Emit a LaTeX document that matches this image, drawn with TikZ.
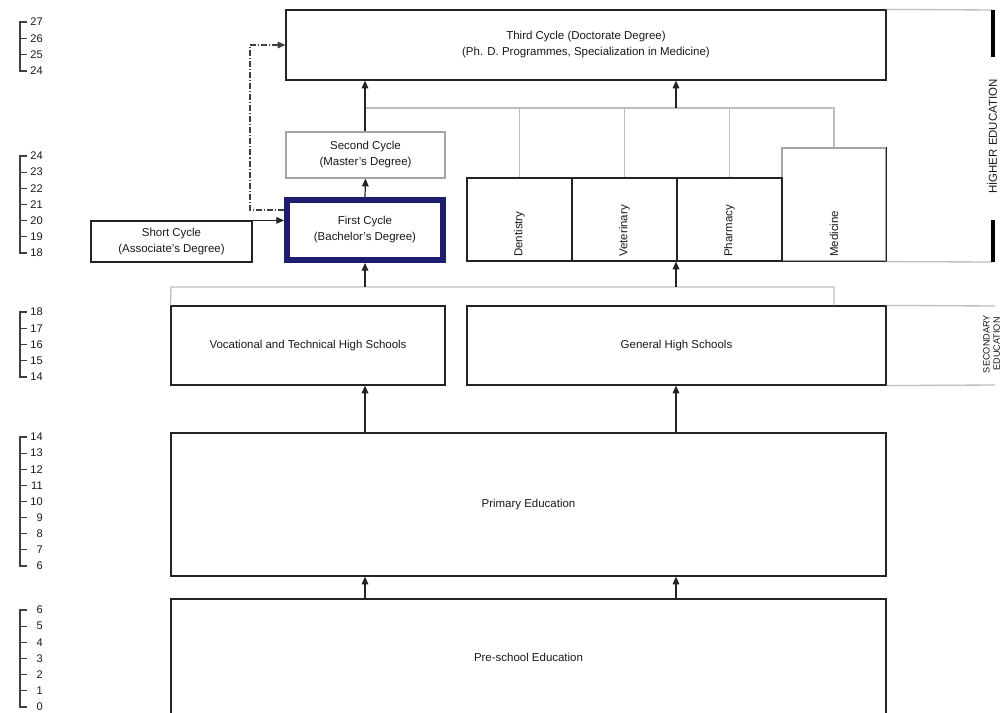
\documentclass[tikz,border=0pt]{standalone}
\usepackage{fontspec}
\setmainfont{Liberation Sans}
\usetikzlibrary{arrows.meta}
\definecolor{navy}{RGB}{30,30,110}
\definecolor{lgrey}{RGB}{190,190,190}
\definecolor{mgrey}{RGB}{165,165,165}
\definecolor{dline}{RGB}{35,35,35}
\definecolor{txt}{RGB}{25,25,25}
\begin{document}
\begin{tikzpicture}[x=0.75pt,y=-0.75pt,
  box/.style={draw=dline, line width=0.9pt, inner sep=0pt, text=txt,
    font=\fontsize{8.6}{12}\selectfont},
  sz/.style 2 args={minimum width=#1*0.75pt, minimum height=#2*0.75pt},
  two/.style={align=center},
  greybox/.style={box, draw=mgrey},
  navybox/.style={box, draw=navy, line width=4.5pt},
  gline/.style={draw=lgrey, line width=1pt},
  arr/.style={draw=dline, line width=0.9pt, -{Triangle[length=5.8pt,width=5pt]}},
  ddash/.style={draw=black!75, line width=0.8pt, dash pattern=on 4.5pt off 1.5pt on 0.8pt off 1.5pt,
    -{Triangle[length=5.8pt,width=5pt]}},
  bar/.style={draw=black, line width=2.3pt},
  vlabel/.style={rotate=90, anchor=west, inner sep=0pt, text=txt, font=\fontsize{8.6}{12}\selectfont},
  axis/.style={draw=black!75, line width=0.8pt},
  axlabel/.style={anchor=east, inner sep=0pt, text=txt, font=\fontsize{8.3}{10}\selectfont},
]
\useasboundingbox (0,0) rectangle (1002,713);

% age scales
\foreach \tp/\bt/\yt/\yb in {27/24/22/71, 24/18/156/253, 18/14/312/377, 14/6/437/566, 6/0/610/707}{
  \draw[axis] (27,\yt) -- (20,\yt) -- (20,\yb) -- (27,\yb);
  \pgfmathtruncatemacro{\nn}{\tp-\bt}
  \foreach \k in {0,...,\nn}{
    \pgfmathsetmacro{\yy}{\yt+\k*(\yb-\yt)/(\tp-\bt)}
    \pgfmathtruncatemacro{\lab}{\tp-\k}
    \draw[axis] (20,\yy) -- (27,\yy);
    \node[axlabel] (ax-\tp-\k) at (43,\yy) {\lab};
  }
}

% boxes
\node[box, two, sz={600}{70}] (third) at (586,45) {Third Cycle (Doctorate Degree)\\(Ph. D. Programmes, Specialization in Medicine)};
\node[greybox, two, sz={159}{46}] (second) at (365.5,155) {Second Cycle\\(Master's Degree)};
\node[navybox, two, sz={156}{60}] (first) at (365,230) {First Cycle\\(Bachelor's Degree)};
\node[box, two, sz={161}{41}] (short) at (171.5,241.5) {Short Cycle\\(Associate's Degree)};

\node[greybox, sz={104}{113}] (med) at (834,204.5) {};
\draw[draw=dline, line width=0.9pt] (med.north east) -- (med.south east) -- (med.south west);
\node[box, sz={105}{83}] (dent) at (519.5,219.5) {};
\node[box, sz={105}{83}] (vet) at (624.5,219.5) {};
\node[box, sz={105}{83}] (pharm) at (729.5,219.5) {};
\node[vlabel] (dentl) at (519.5,257) {Dentistry};
\node[vlabel] (vetl) at (624.5,257) {Veterinary};
\node[vlabel] (pharml) at (729.5,257) {Pharmacy};
\node[vlabel] (medl) at (834,257) {Medicine};

\node[box, sz={274}{79}] (voc) at (308,345.5) {Vocational and Technical High Schools};
\node[box, sz={419}{79}] (gen) at (676.5,345.5) {General High Schools};
\node[box, sz={715}{143}] (prim) at (528.5,504.5) {Primary Education};
\node[box, sz={715}{116}] (pre) at (528.5,657) {Pre-school Education};

% columns and buses
\coordinate (colA) at (365,0);
\coordinate (colB) at (676,0);
\coordinate (bus1) at (365,108);
\coordinate (bus1r) at (834,108);
\coordinate (bus2l) at (171,287);
\coordinate (bus2r) at (834,287);

% higher education connectors
\draw[arr] (first.north) -- (second.south);
\draw[gline] (bus1) -- (bus1r) -- (med.north);
\draw[gline] (dent.north |- bus1) -- (dent.north);
\draw[gline] (vet.north |- bus1) -- (vet.north);
\draw[gline] (pharm.north |- bus1) -- (pharm.north);
\draw[arr] (colA |- second.north) -- (colA |- third.south);
\draw[arr] (colB |- bus1) -- (colB |- third.south);
\draw[arr] (short.north east) -- (first.west |- short.north east);
\coordinate (dd1) at (250,210);
\coordinate (dd2) at (250,45);
\draw[ddash] (first.west |- dd1) -- (dd1) -- (dd2) -- (third.west |- dd2);

% secondary to higher
\draw[gline] (voc.north west) -- (bus2l) -- (bus2r) -- (bus2r |- gen.north);
\draw[arr] (colA |- bus2l) -- (colA |- first.south);
\draw[arr] (colB |- bus2l) -- (colB |- pharm.south);

% lower levels
\draw[arr] (colA |- prim.north) -- (colA |- voc.south);
\draw[arr] (colB |- prim.north) -- (colB |- gen.south);
\draw[arr] (colA |- pre.north) -- (colA |- prim.south);
\draw[arr] (colB |- pre.north) -- (colB |- prim.south);

% right-hand brackets
\coordinate (heT) at (993,10);
\coordinate (heB) at (993,262);
\draw[gline] (third.north east) -- (heT);
\draw[gline] (med.south east) -- (heB);
\draw[bar] (heT) -- (993,57);
\draw[bar] (heB) -- (993,220);
\node[rotate=90, inner sep=0pt, text=txt, font=\fontsize{8.6}{12}\selectfont] (hel) at (992,136.5) {HİGHER EDUCATION};
\coordinate (seT) at (995,306);
\coordinate (seB) at (995,385);
\draw[gline] (gen.north east) -- (seT);
\draw[gline] (gen.south east) -- (seB);
\node[rotate=90, inner sep=0pt, align=center, text=txt, font=\fontsize{6.9}{7.6}\selectfont] (sel) at (991.5,344) {SECONDARY\\EDUCATION};
\end{tikzpicture}
\end{document}
